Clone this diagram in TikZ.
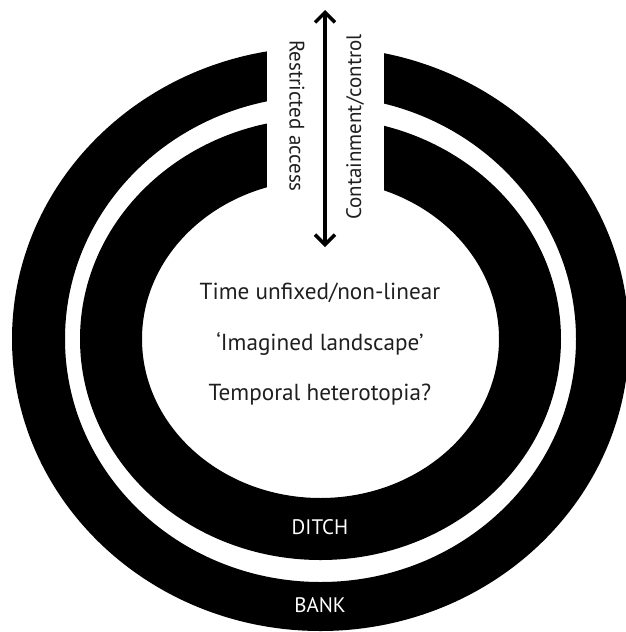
\documentclass[tikz,border=0pt]{standalone}
\usepackage{fontspec}
\setmainfont{PT Sans}
\usetikzlibrary{arrows.meta}

\begin{document}
\begin{tikzpicture}[x=0.5pt,y=-0.5pt]
\tikzstyle{inner text}=[font=\fontsize{11.6}{13}\selectfont,text=black!88]
\tikzstyle{ring text}=[font=\fontsize{10.5}{12}\selectfont,text=white]
\tikzstyle{gate text}=[font=\fontsize{10.5}{12}\selectfont,text=black!88]
\tikzstyle{gate arrow}=[line width=1.7pt,{Straight Barb[length=5pt,width=10pt]}-{Straight Barb[length=5pt,width=10pt]}]

\useasboundingbox (0,0) rectangle (626,632);

% bank, then ditch
\fill[black,even odd rule] (320.5,339) ellipse [x radius=308.5,y radius=292]
  (320.5,339) ellipse [x radius=255.5,y radius=243];
\fill[black,even odd rule] (320.5,339) ellipse [x radius=240.5,y radius=221]
  (320.5,339) ellipse [x radius=178.5,y radius=159];
% entrance cut through both rings
\fill[white] (267,0) rectangle (384,200);

\node[inner text] (time) at (320,293) {Time unfixed/non-linear};
\node[inner text] (imagined) at (320,344) {‘Imagined landscape’};
\node[inner text] (hetero) at (320,395) {Temporal heterotopia?};

\node[ring text] (ditch) at (320,527) {DITCH};
\node[ring text] (bank) at (320,605) {BANK};

\node[gate text,rotate=-90] (restricted) at (297,116) {Restricted access};
\node[gate text,rotate=90] (contain) at (355,127) {Containment/control};

\coordinate (gate top) at (325,10);
\coordinate (gate bottom) at (325,247);
\draw[gate arrow] (gate top) -- (gate bottom);
\end{tikzpicture}
\end{document}
